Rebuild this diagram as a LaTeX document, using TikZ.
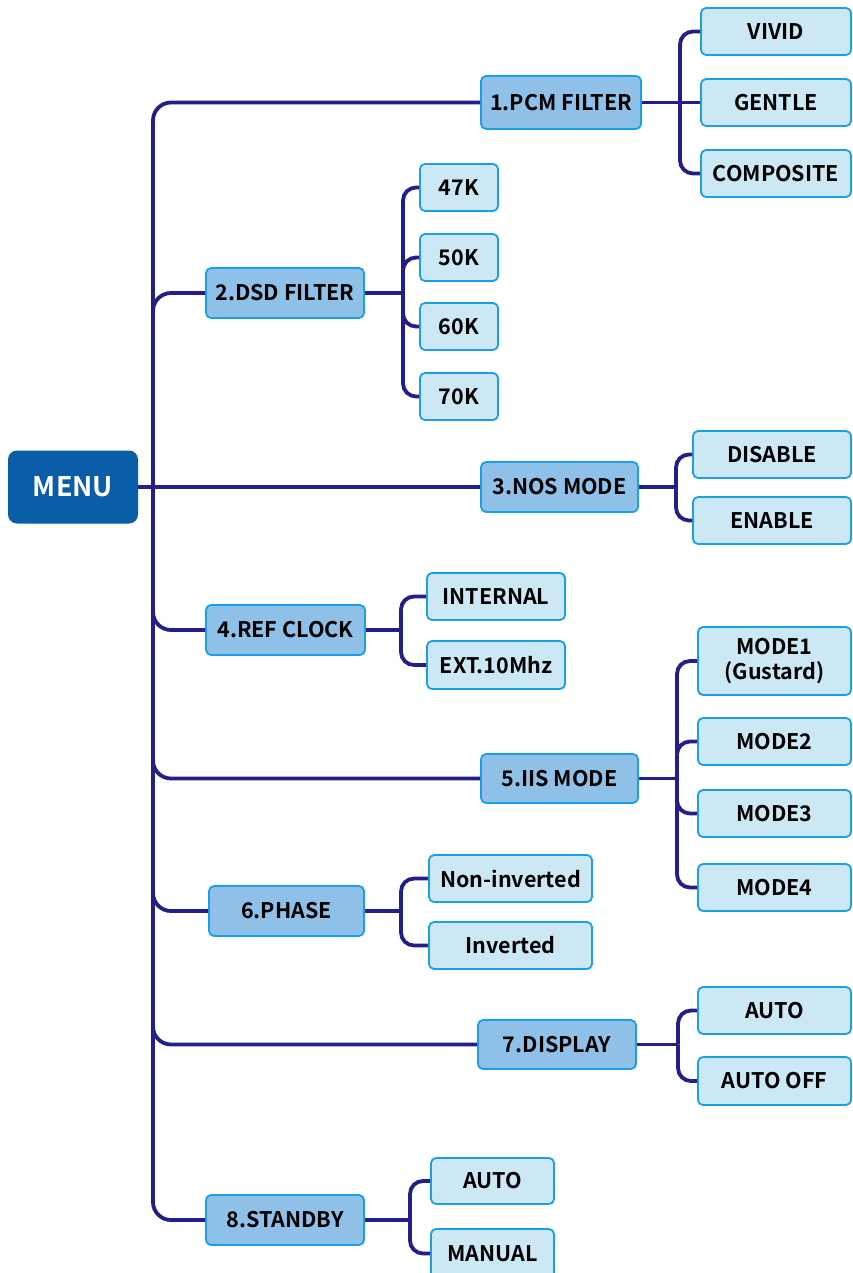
\documentclass[tikz,border=0pt]{standalone}
\usepackage{fontspec}
\setmainfont{Noto Sans CJK SC}[BoldFont={Noto Sans CJK SC Bold}]
\definecolor{linkcol}{RGB}{34,30,138}
\definecolor{edgecol}{RGB}{26,160,230}
\definecolor{lvfill}{RGB}{142,192,232}
\definecolor{leaffill}{RGB}{204,232,244}
\definecolor{menufill}{RGB}{10,94,168}
\tikzset{
  conn/.style={draw=linkcol, line width=3.8pt, rounded corners=13pt},
  trunk/.style={draw=linkcol, line width=3.8pt, rounded corners=18pt},
  basebox/.style={rectangle, rounded corners=5pt, inner sep=0pt, line width=1.8pt,
    draw=edgecol, align=center, font=\bfseries\fontsize{21.5}{25}\selectfont},
  lvbox/.style={basebox, fill=lvfill},
  leafbox/.style={basebox, fill=leaffill},
  menubox/.style={rectangle, rounded corners=9pt, inner sep=0pt, fill=menufill,
    text=white, font=\bfseries\fontsize{27}{30}\selectfont},
}
% box from its corners: style, name, x1, x2, y1, y2, text
\newcommand\boxat[7]{%
  \node[#1, minimum width={#4pt-#3pt}, minimum height={#6pt-#5pt}]
    (#2) at ({(#3+#4)/2},{(#5+#6)/2}) {#7};}
\begin{document}
\begin{tikzpicture}[x=1pt,y=-1pt]
\clip (0,0) rectangle (852,1273);
\fill[white] (0,0) rectangle (852,1273);

% junction points
\coordinate (tj) at (153,487);
\coordinate (pcmj) at (680,102.5);
\coordinate (dsdj) at (403,293);
\coordinate (nosj) at (676,487);
\coordinate (refj) at (401,630);
\coordinate (iisj) at (677,778.5);
\coordinate (phj) at (401,911);
\coordinate (dispj) at (678,1044.5);
\coordinate (stj) at (410,1220);

% root
\boxat{menubox}{menu}{8}{138}{450.5}{523.5}{MENU}

% first level
\boxat{lvbox}{pcm}{481}{641}{76}{129}{1.PCM FILTER}
\boxat{lvbox}{dsd}{206}{364}{268}{318}{2.DSD FILTER}
\boxat{lvbox}{nos}{481}{638}{462}{512}{3.NOS MODE}
\boxat{lvbox}{ref}{206}{365}{605}{655}{4.REF CLOCK}
\boxat{lvbox}{iis}{481}{638}{754}{803}{5.IIS MODE}
\boxat{lvbox}{phase}{209}{364}{886}{936}{6.PHASE}
\boxat{lvbox}{disp}{478}{636}{1020}{1069}{7.DISPLAY}
\boxat{lvbox}{stby}{206}{364}{1195}{1245}{8.STANDBY}

% options
\boxat{leafbox}{vivid}{701}{851}{8}{55}{VIVID}
\boxat{leafbox}{gentle}{701}{851}{79}{126}{GENTLE}
\boxat{leafbox}{comp}{701}{851}{150}{197}{COMPOSITE}
\boxat{leafbox}{k47}{420}{498}{164}{211}{47K}
\boxat{leafbox}{k50}{420}{498}{234}{281}{50K}
\boxat{leafbox}{k60}{420}{498}{303}{350}{60K}
\boxat{leafbox}{k70}{420}{498}{373}{420}{70K}
\boxat{leafbox}{dis}{693}{851}{431}{478}{DISABLE}
\boxat{leafbox}{ena}{693}{851}{497}{544}{ENABLE}
\boxat{leafbox}{int}{427}{565}{573}{620}{INTERNAL}
\boxat{leafbox}{ext}{427}{565}{641}{689}{EXT.10Mhz}
\boxat{leafbox}{mA}{698}{851}{627}{695}{MODE1\\[0pt](Gustard)}
\boxat{leafbox}{mB}{698}{851}{718}{765}{MODE2}
\boxat{leafbox}{mC}{698}{851}{790}{837}{MODE3}
\boxat{leafbox}{mD}{698}{851}{864}{911}{MODE4}
\boxat{leafbox}{noninv}{429}{592}{855}{902}{Non-inverted}
\boxat{leafbox}{inv}{429}{592}{922}{969}{Inverted}
\boxat{leafbox}{dauto}{698}{851}{987}{1034}{AUTO}
\boxat{leafbox}{doff}{698}{851}{1057}{1105}{AUTO OFF}
\boxat{leafbox}{sauto}{431}{554}{1158}{1204}{AUTO}
\boxat{leafbox}{man}{431}{554}{1229}{1278}{MANUAL}

% trunk
\draw[trunk] (menu.east) -- (nos.west);
\foreach \n in {pcm,dsd,ref,iis,phase,disp,stby}
  \draw[trunk] (tj) |- (\n.west);

% 1.PCM FILTER
\draw[conn] (pcm.east) -- (gentle.west);
\draw[conn] (pcmj) |- (vivid.west);
\draw[conn] (pcmj) |- (comp.west);
% 2.DSD FILTER
\draw[conn] (dsd.east) -- (dsdj);
\foreach \n in {k47,k50,k60,k70} \draw[conn] (dsdj) |- (\n.west);
% 3.NOS MODE
\draw[conn] (nos.east) -- (nosj);
\foreach \n in {dis,ena} \draw[conn] (nosj) |- (\n.west);
% 4.REF CLOCK
\draw[conn] (ref.east) -- (refj);
\foreach \n in {int,ext} \draw[conn] (refj) |- (\n.west);
% 5.IIS MODE
\draw[conn] (iis.east) -- (iisj);
\foreach \n in {mA,mB,mC,mD} \draw[conn] (iisj) |- (\n.west);
% 6.PHASE
\draw[conn] (phase.east) -- (phj);
\foreach \n in {noninv,inv} \draw[conn] (phj) |- (\n.west);
% 7.DISPLAY
\draw[conn] (disp.east) -- (dispj);
\foreach \n in {dauto,doff} \draw[conn] (dispj) |- (\n.west);
% 8.STANDBY
\draw[conn] (stby.east) -- (stj);
\foreach \n in {sauto,man} \draw[conn] (stj) |- (\n.west);
\end{tikzpicture}
\end{document}
